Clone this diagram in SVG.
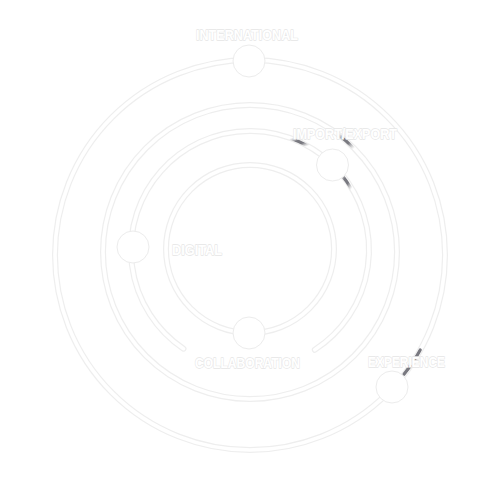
<svg xmlns="http://www.w3.org/2000/svg" width="500" height="500" viewBox="0 0 500 500">
<defs>
<style>
.ro{fill:none;stroke:#eeeeee;stroke-width:6;stroke-linecap:round}
.ri{fill:none;stroke:#ffffff;stroke-width:3.6;stroke-linecap:round}
.node{fill:#ffffff;stroke:#ececec;stroke-width:1}
.lbl{font-family:"Liberation Sans",Arial,sans-serif;font-weight:bold;font-size:15px;fill:#ffffff;stroke:#e6e6e6;stroke-width:1.3;paint-order:stroke;stroke-linejoin:round}
.sh{fill:none;stroke-width:3.2;stroke-linecap:round}
</style>
<linearGradient id="g" x1="0" y1="0" x2="1" y2="1">
<stop offset="0" stop-color="#999" stop-opacity="0"/>
<stop offset="0.35" stop-color="#6a6a72" stop-opacity="0.9"/>
<stop offset="0.65" stop-color="#6a6a72" stop-opacity="0.9"/>
<stop offset="1" stop-color="#999" stop-opacity="0"/>
</linearGradient>
</defs>
<rect width="500" height="500" fill="#ffffff"/>
<g id="connectors">
<circle class="ro" cx="250" cy="255" r="195"/>
<circle class="ri" cx="250" cy="255" r="195"/>
<circle class="ro" cx="250" cy="252" r="147"/>
<circle class="ri" cx="250" cy="252" r="147"/>
<path class="ro" d="M183.5,348.7 A119,119 0 1 1 314.8,349.8"/>
<path class="ri" d="M183.5,348.7 A119,119 0 1 1 314.8,349.8"/>
<circle class="ro" cx="250" cy="249" r="84"/>
<circle class="ri" cx="250" cy="249" r="84"/>
<path class="sh" stroke="url(#g)" d="M290.6,138.2 A119,119 0 0 1 307.9,146.0"/>
<path class="sh" stroke="url(#g)" d="M337.5,134.0 A147,147 0 0 1 354.0,148.5"/>
<path class="sh" stroke="url(#g)" d="M340.5,173.5 A119,119 0 0 1 351.5,189.0"/>
<path class="sh" stroke="url(#g)" d="M420.2,350.0 A195,195 0 0 1 415.0,358.8"/>
<path class="sh" stroke="url(#g)" d="M410.2,366.0 A195,195 0 0 1 404.0,374.2"/>
</g>
<g id="international">
<circle class="node" cx="249" cy="61" r="16"/>
<text class="lbl" x="196" y="40" textLength="102" lengthAdjust="spacingAndGlyphs">INTERNATIONAL</text>
</g>
<g id="importexport">
<circle class="node" cx="332.5" cy="165" r="16"/>
<text class="lbl" x="293" y="139" textLength="104" lengthAdjust="spacingAndGlyphs">IMPORT/EXPORT</text>
</g>
<g id="digital">
<circle class="node" cx="133" cy="247" r="16"/>
<text class="lbl" x="172" y="255" textLength="50" lengthAdjust="spacingAndGlyphs">DIGITAL</text>
</g>
<g id="collaboration">
<circle class="node" cx="249" cy="333" r="16"/>
<text class="lbl" x="195" y="368" textLength="105" lengthAdjust="spacingAndGlyphs">COLLABORATION</text>
</g>
<g id="experience">
<circle class="node" cx="392" cy="387" r="16"/>
<text class="lbl" x="368" y="367" textLength="77" lengthAdjust="spacingAndGlyphs">EXPERIENCE</text>
</g>
</svg>
